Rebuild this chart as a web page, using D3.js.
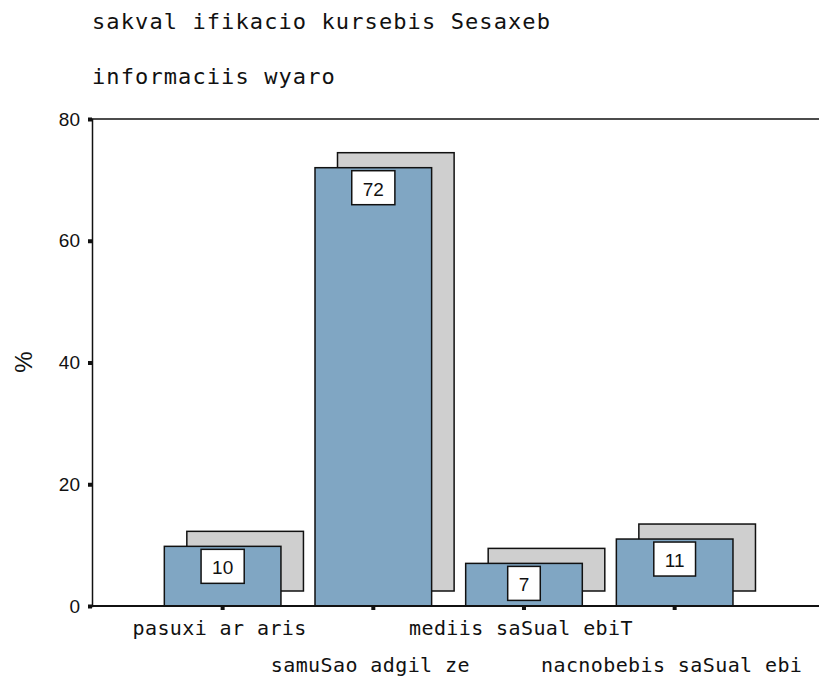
<!DOCTYPE html>
<html>
<head>
<meta charset="utf-8">
<script src="https://d3js.org/d3.v7.min.js"></script>
<style>
  body { margin: 0; background: #fff; }
  svg { display: block; }
</style>
</head>
<body>
<div id="chart"></div>
<script>
// data
const titleLines = ["sakval ifikacio kursebis Sesaxeb", "informaciis wyaro"];
const categories = ["pasuxi ar aris", "samuSao adgil ze", "mediis saSual ebiT", "nacnobebis saSual ebi"];
const values = [9.8, 72.0, 7.0, 11.0];
const labels = [10, 72, 7, 11];
const yTicks = [0, 20, 40, 60, 80];

const W = 819, H = 679;
const plotLeft = 92, plotTop = 119, plotBottom = 606;

const svg = d3.select("#chart")
    .append("svg")
    .attr("width", W)
    .attr("height", H);

const x = d3.scaleBand()
    .domain(categories)
    .range([147.3, 750])
    .paddingInner(0.226)
    .paddingOuter(0.113);

const y = d3.scaleLinear()
    .domain([0, 80])
    .range([plotBottom, plotTop]);

const monoFont = "'DejaVu Sans Mono', monospace";
const sansFont = "Arial, 'Liberation Sans', sans-serif";

// title, two lines
svg.selectAll("text.title")
    .data(titleLines)
    .enter()
    .append("text")
    .attr("class", "title")
    .attr("x", plotLeft)
    .attr("y", (d, i) => 29 + i * 55)
    .attr("font-family", monoFont)
    .attr("font-size", 22)
    .attr("letter-spacing", 1.1)
    .attr("fill", "#111")
    .text(d => d);

// shadow bars (offset copy behind)
const dx = 22.5, dy = -15;
svg.selectAll("rect.shadow")
    .data(values)
    .enter()
    .append("rect")
    .attr("x", (d, i) => x(categories[i]) + dx)
    .attr("y", d => y(d) + dy)
    .attr("width", x.bandwidth())
    .attr("height", d => y(0) - y(d))
    .attr("fill", "#cfcfcf")
    .attr("stroke", "#111")
    .attr("stroke-width", 1.5);

// main bars
svg.selectAll("rect.bar")
    .data(values)
    .enter()
    .append("rect")
    .attr("x", (d, i) => x(categories[i]))
    .attr("y", d => y(d))
    .attr("width", x.bandwidth())
    .attr("height", d => y(0) - y(d))
    .attr("fill", "#80a6c3")
    .attr("stroke", "#111")
    .attr("stroke-width", 1.5);

// value boxes
const boxes = svg.selectAll("g.vlabel")
    .data(values)
    .enter()
    .append("g")
    .attr("transform", (d, i) => `translate(${x(categories[i]) + x.bandwidth() / 2},${y(d) + 3})`);

boxes.each(function(d, i) {
    const g = d3.select(this);
    const rect = g.append("rect");
    const t = g.append("text")
        .attr("text-anchor", "middle")
        .attr("y", 25)
        .attr("font-family", sansFont)
        .attr("font-size", 19)
        .attr("fill", "#111")
        .text(labels[i]);
    const w = t.node().getComputedTextLength() + 22;
    rect.attr("x", -w / 2)
        .attr("y", 0)
        .attr("width", w)
        .attr("height", 34)
        .attr("fill", "#fff")
        .attr("stroke", "#111")
        .attr("stroke-width", 1.5);
});

// frame lines
svg.append("line")
    .attr("x1", plotLeft).attr("x2", W)
    .attr("y1", plotTop).attr("y2", plotTop)
    .attr("stroke", "#111").attr("stroke-width", 1.5);
svg.append("line")
    .attr("x1", plotLeft).attr("x2", W)
    .attr("y1", plotBottom).attr("y2", plotBottom)
    .attr("stroke", "#111").attr("stroke-width", 2);

// y axis
const yAxis = svg.append("g")
    .attr("transform", `translate(${plotLeft},0)`)
    .call(d3.axisLeft(y).tickValues(yTicks).tickSize(4).tickPadding(8));
yAxis.select(".domain").attr("stroke", "#111").attr("stroke-width", 1.5);
yAxis.selectAll(".tick line").attr("stroke", "#111").attr("stroke-width", 4);
yAxis.selectAll(".tick text")
    .attr("font-family", sansFont)
    .attr("font-size", 19)
    .attr("fill", "#111");

// x ticks
svg.selectAll("rect.xtick")
    .data(categories)
    .enter()
    .append("rect")
    .attr("x", d => x(d) + x.bandwidth() / 2 - 2)
    .attr("y", plotBottom)
    .attr("width", 4)
    .attr("height", 4)
    .attr("fill", "#111");

// x labels, staggered on two rows
svg.selectAll("text.xlabel")
    .data(categories)
    .enter()
    .append("text")
    .attr("x", d => x(d) + x.bandwidth() / 2 - 3)
    .attr("y", (d, i) => i % 2 === 0 ? 635 : 672)
    .attr("text-anchor", "middle")
    .attr("font-family", monoFont)
    .attr("font-size", 20)
    .attr("letter-spacing", 0.4)
    .attr("fill", "#111")
    .text(d => d);

// y label
svg.append("text")
    .attr("transform", "translate(32,362) rotate(-90)")
    .attr("text-anchor", "middle")
    .attr("font-family", sansFont)
    .attr("font-size", 24)
    .attr("fill", "#111")
    .text("%");
</script>
</body>
</html>
